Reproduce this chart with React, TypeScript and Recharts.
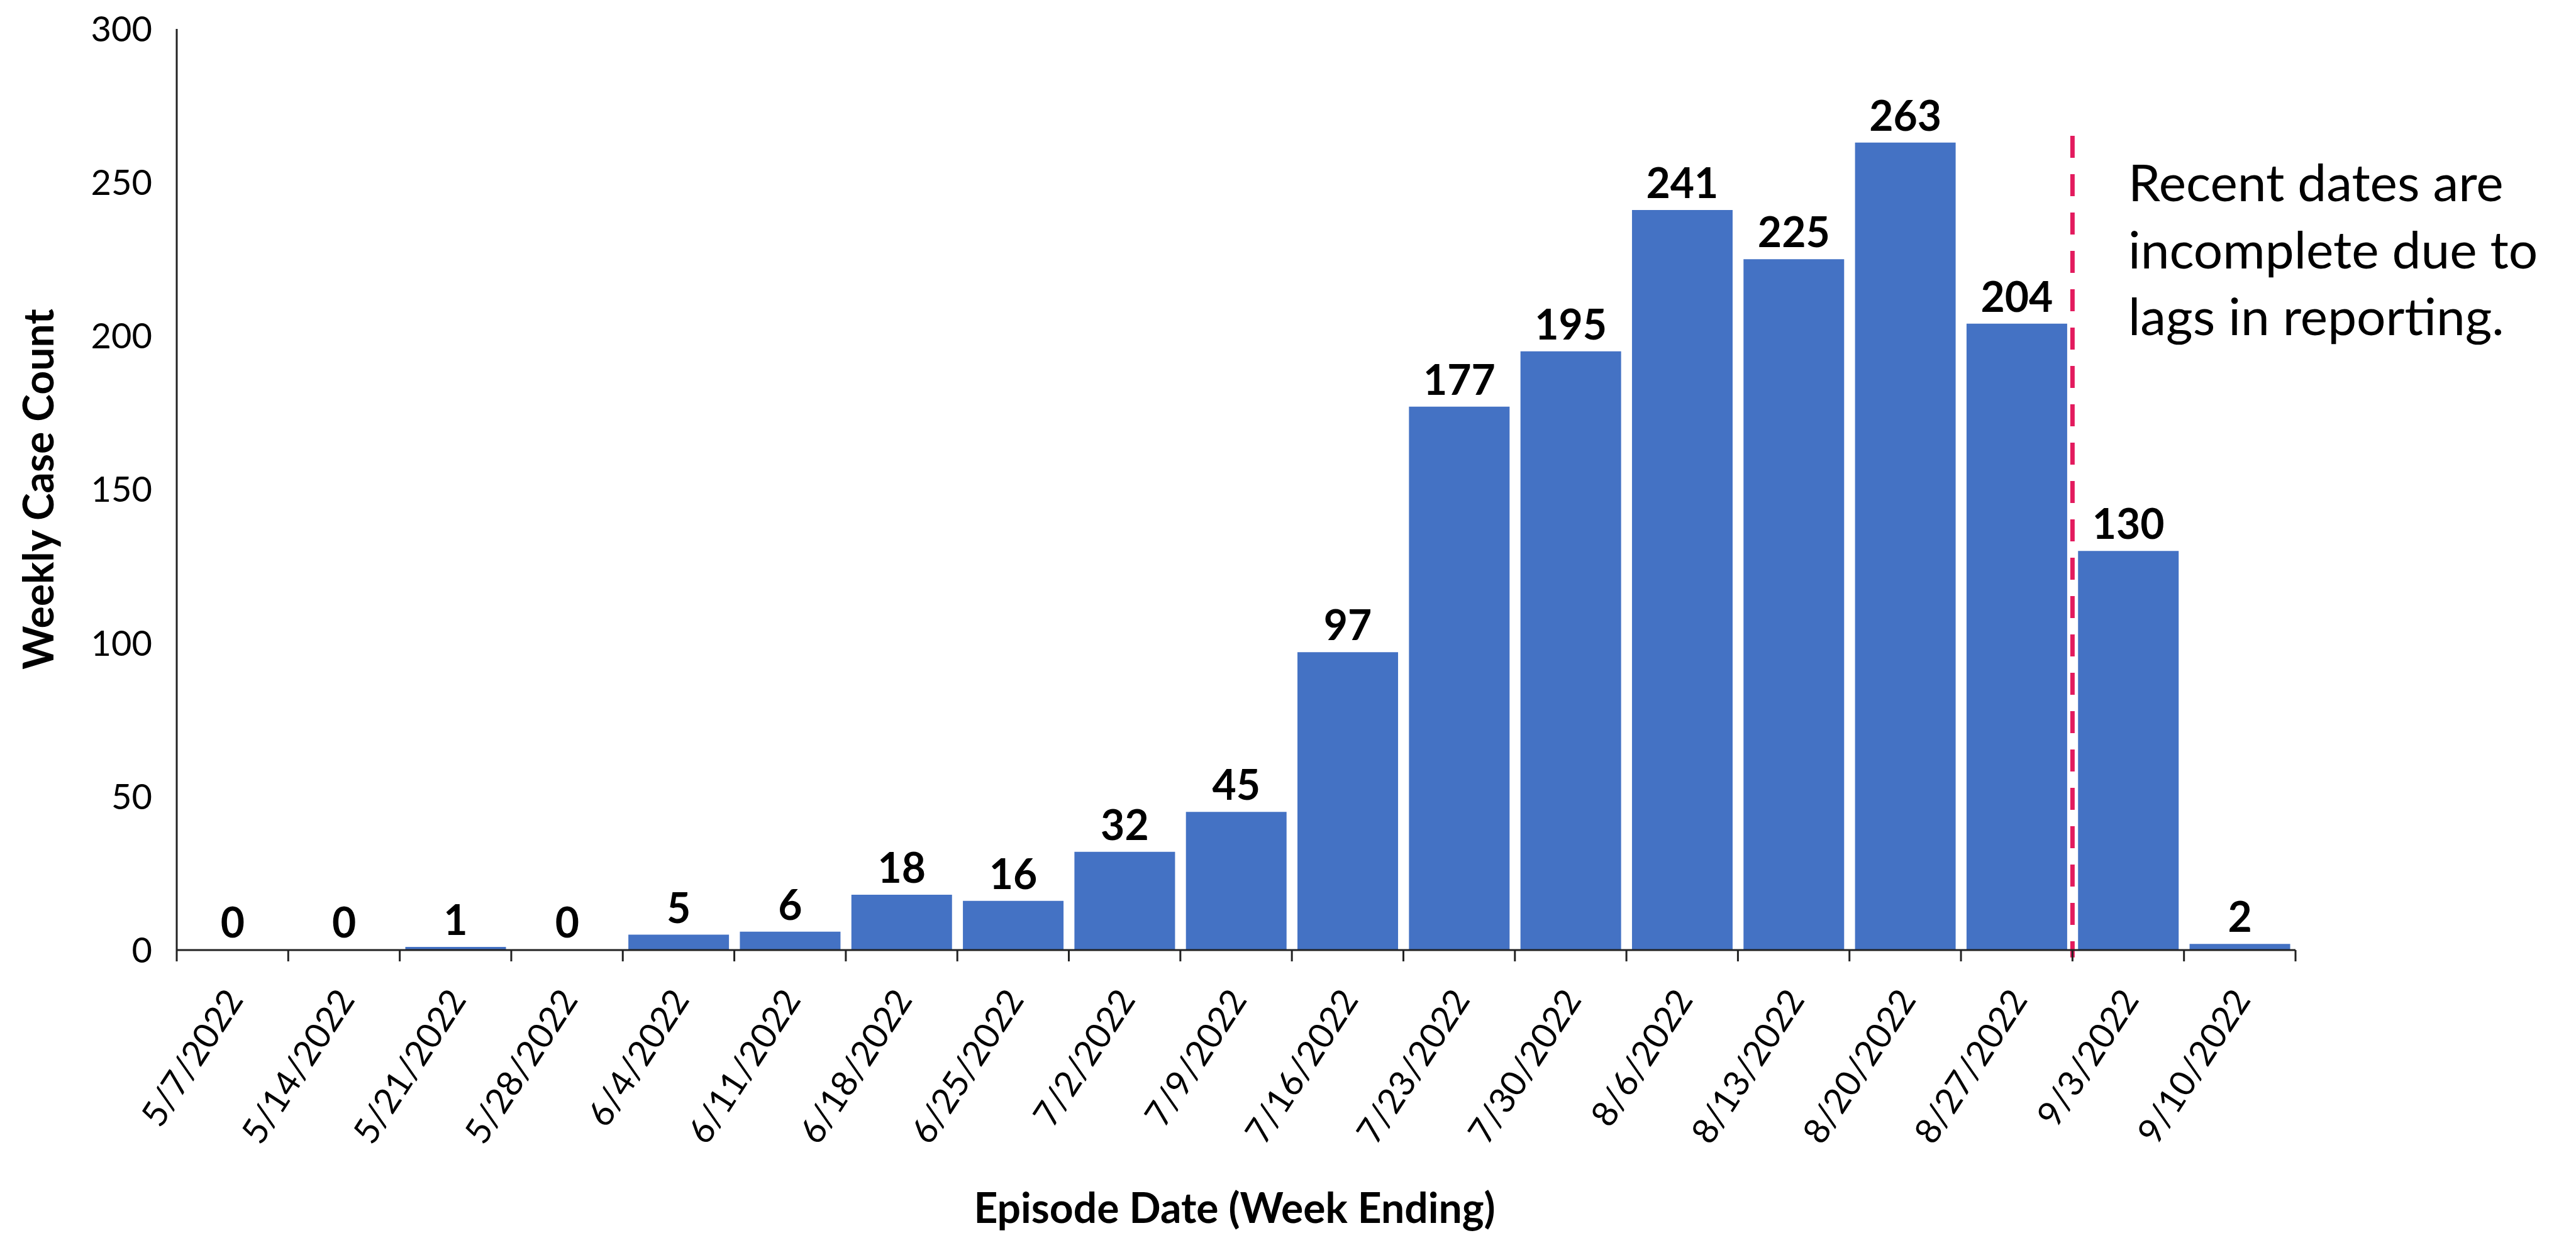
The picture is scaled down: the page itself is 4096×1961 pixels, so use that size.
import React from 'react';
import { BarChart, Bar, Cell, XAxis, YAxis, LabelList, ReferenceLine, Customized } from 'recharts';

const weeks = [
  '5/7/2022', '5/14/2022', '5/21/2022', '5/28/2022', '6/4/2022', '6/11/2022', '6/18/2022',
  '6/25/2022', '7/2/2022', '7/9/2022', '7/16/2022', '7/23/2022', '7/30/2022', '8/6/2022',
  '8/13/2022', '8/20/2022', '8/27/2022', '9/3/2022', '9/10/2022',
];
const cases = [0, 0, 1, 0, 5, 6, 18, 16, 32, 45, 97, 177, 195, 241, 225, 263, 204, 130, 2];
const yTicks = [0, 50, 100, 150, 200, 250, 300];
const noteLines = ['Recent dates are', 'incomplete due to', 'lags in reporting.'];
const cutoffWeek = '8/27/2022'; // dashed line sits at the end of this week
const cutoffSpan = [265.2, -2.4]; // top and bottom of the dashed line, in case units

const data = weeks.map((week, i) => ({ week, cases: cases[i] }));

const FONT = "Lato, 'Open Sans', sans-serif";
const AXIS = '#222222';
const BAR = '#4472C4';

// tick marks go between categories, the label hangs under the centre
const WeekTick = (props: any) => {
  const { x, y, payload } = props;
  const half = payload.offset ?? 88.6;
  const lx = x + 19;
  const ly = y + 79;
  const isLast = payload.value === weeks[weeks.length - 1];
  return (
    <g>
      <line x1={x - half} y1={y} x2={x - half} y2={y + 18} stroke={AXIS} strokeWidth={3} />
      {isLast && <line x1={x + half} y1={y} x2={x + half} y2={y + 18} stroke={AXIS} strokeWidth={3} />}
      <text
        x={lx}
        y={ly}
        textAnchor="end"
        transform={`rotate(-57 ${lx} ${ly})`}
        fontSize={56}
        fontFamily={FONT}
        fill="#000"
      >
        {payload.value}
      </text>
    </g>
  );
};

const Titles = () => (
  <g fontFamily={FONT} fill="#000">
    <text
      x={85}
      y={778}
      textAnchor="middle"
      transform="rotate(-90 85 778)"
      fontSize={66}
      fontWeight="bold"
    >
      Weekly Case Count
    </text>
    <text x={1963} y={1945} textAnchor="middle" fontSize={66} fontWeight="bold">
      Episode Date (Week Ending)
    </text>
    {noteLines.map((line, i) => (
      <text key={line} x={3384} y={320 + i * 106.5} fontSize={82}>
        {line}
      </text>
    ))}
  </g>
);

export default function App() {
  return (
    <div style={{ width: 4096, height: 1961, background: '#fff' }}>
      <style>{'body{margin:0;background:#fff}'}</style>
      <BarChart
        width={4096}
        height={1961}
        data={data}
        margin={{ top: 46, right: 446, left: 181, bottom: 150 }}
        barCategoryGap="5%"
      >
        <XAxis
          dataKey="week"
          height={300}
          interval={0}
          tickLine={false}
          tickSize={0}
          tickMargin={0}
          axisLine={{ stroke: AXIS, strokeWidth: 3 }}
          tick={<WeekTick />}
        />
        <YAxis
          width={100}
          domain={[0, 300]}
          ticks={yTicks}
          tickLine={false}
          tickSize={0}
          tickMargin={39}
          axisLine={{ stroke: AXIS, strokeWidth: 3 }}
          tick={{ fontSize: 56, fill: '#000', fontFamily: FONT }}
        />
        {/* zero weeks get a 1px invisible bar so their "0" label is still drawn */}
        <Bar
          dataKey="cases"
          fill={BAR}
          minPointSize={(v: number) => (v === 0 ? 1 : 0)}
          isAnimationActive={false}
        >
          {data.map((d) => (
            <Cell key={d.week} fill={d.cases === 0 ? 'transparent' : BAR} />
          ))}
          <LabelList
            dataKey="cases"
            position="top"
            offset={19}
            fill="#000"
            fontSize={66}
            fontWeight="bold"
            fontFamily={FONT}
          />
        </Bar>
        <ReferenceLine
          segment={[
            { x: cutoffWeek, y: cutoffSpan[0] },
            { x: cutoffWeek, y: cutoffSpan[1] },
          ]}
          position="end"
          stroke="#E31B5E"
          strokeWidth={7}
          strokeDasharray="35 26"
          ifOverflow="visible"
        />
        <Customized component={Titles} />
      </BarChart>
    </div>
  );
}
